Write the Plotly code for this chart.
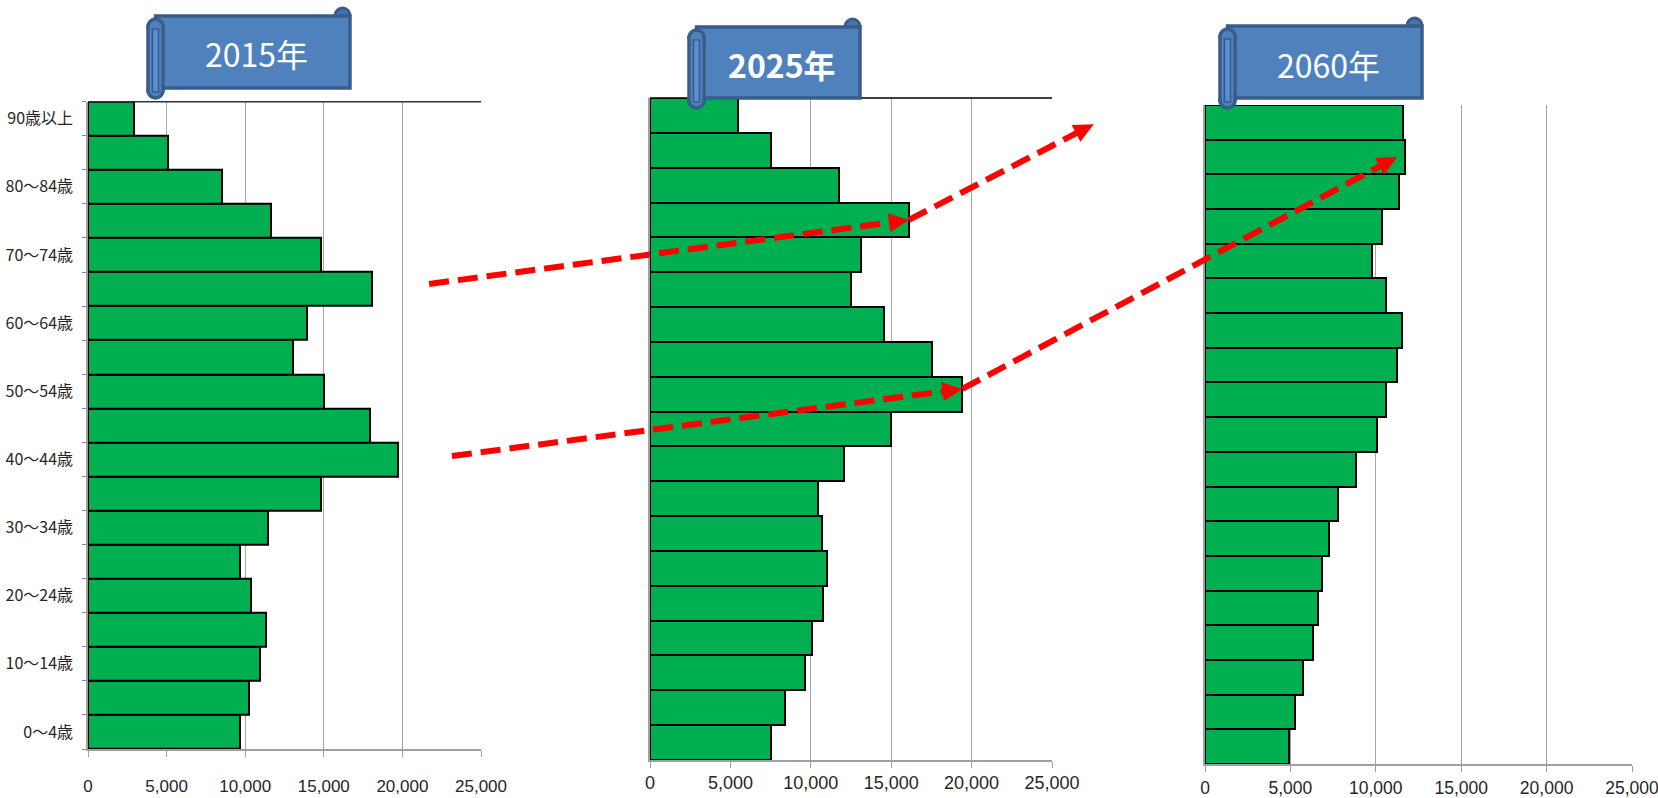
import plotly.graph_objects as go

W, H = 1658, 798

# ---- data (bottom to top: 0～4歳 ... 90歳以上) ----
age_labels = ["0～4歳", "5～9歳", "10～14歳", "15～19歳", "20～24歳", "25～29歳",
              "30～34歳", "35～39歳", "40～44歳", "45～49歳", "50～54歳", "55～59歳",
              "60～64歳", "65～69歳", "70～74歳", "75～79歳", "80～84歳", "85～89歳",
              "90歳以上"]
pop_2015 = [9650, 10220, 10910, 11330, 10350, 9650, 11440, 14800, 19690, 17940,
            15010, 13010, 13900, 18090, 14840, 11610, 8530, 5060, 2950]
pop_2025 = [7510, 8420, 9630, 10100, 10750, 11020, 10690, 10460, 12090, 14980,
            19420, 17550, 14560, 12530, 13110, 16100, 11740, 7510, 5500]
pop_2060 = [4940, 5290, 5760, 6340, 6640, 6850, 7260, 7810, 8820, 10070,
            10600, 11220, 11530, 10580, 9780, 10360, 11340, 11690, 11610]
years = ["2015年", "2025年", "2060年"]
x_ticks = [0, 5000, 10000, 15000, 20000, 25000]
x_ticktext = ["0", "5,000", "10,000", "15,000", "20,000", "25,000"]
x_max = 25000

series = [pop_2015, pop_2025, pop_2060]
ypos = list(range(len(age_labels)))

# ---- layout geometry (page pixels) ----
P = [dict(x0=88, x1=481, yT=101.7, yB=749),
     dict(x0=650, x1=1052, yT=98, yB=760),
     dict(x0=1205, x1=1632, yT=105, yB=764)]
NC = len(age_labels)


def px(p, v):
    d = P[p]
    return d["x0"] + v / x_max * (d["x1"] - d["x0"])


def py(p, c):
    d = P[p]
    return d["yB"] - (c + 0.5) / NC * (d["yB"] - d["yT"])


def X(x):
    return x / W


def Y(y):
    return 1 - y / H


fig = go.Figure()
for i, vals in enumerate(series):
    n = "" if i == 0 else str(i + 1)
    fig.add_trace(go.Bar(
        x=vals, y=ypos, orientation="h",
        xaxis="x" + n, yaxis="y" + n,
        marker=dict(color="#00B050", line=dict(color="#000000", width=2)),
        hoverinfo="x",
    ))

layout = dict(width=W, height=H, margin=dict(l=0, r=0, t=0, b=0, autoexpand=False),
              paper_bgcolor="white", plot_bgcolor="white",
              showlegend=False, bargap=0)

for i in range(3):
    n = "" if i == 0 else str(i + 1)
    d = P[i]
    if i == 0:
        tfont = dict(family="Liberation Sans Narrow, Liberation Sans", size=17, color="#262626")
        stand = 15
    elif i == 1:
        tfont = dict(family="Liberation Sans", size=18, color="#262626")
        stand = 0
    else:
        tfont = dict(family="Liberation Sans", size=17.5, color="#262626")
        stand = 1
    layout["xaxis" + n] = dict(
        domain=[X(d["x0"]), X(d["x1"])], range=[0, x_max],
        anchor="y" + n, tickmode="array", tickvals=x_ticks, ticktext=x_ticktext,
        showgrid=True, gridcolor="#A6A6A6", gridwidth=1.2,
        showline=True, linecolor="#A0A0A0", linewidth=1.5,
        ticks="outside", ticklen=6, tickcolor="#A0A0A0",
        zeroline=False, tickfont=tfont, ticklabelstandoff=stand,
        ticklabeloverflow="allow",
        automargin=False, fixedrange=True,
    )
    ya = dict(
        domain=[Y(d["yB"]), Y(d["yT"])], range=[-0.5, NC - 0.5],
        anchor="x" + n, showgrid=False, zeroline=False, automargin=False,
        showline=True, linecolor="#A0A0A0", linewidth=1.5, fixedrange=True,
    )
    if i == 0:
        ya.update(tickmode="array", tickvals=ypos[::2], ticktext=age_labels[::2],
                  ticks="", ticklabelstandoff=10,
                  tickfont=dict(family="Noto Sans CJK JP", size=16, color="#262626"),
                  minor=dict(tickmode="array",
                             tickvals=[k - 0.5 for k in range(NC + 1)],
                             ticks="outside", ticklen=4, tickcolor="#888888"))
    else:
        ya.update(showticklabels=False, ticks="")
    layout["yaxis" + n] = ya

shapes = []
annotations = []

# top border lines of first two panels
for i in (0, 1):
    d = P[i]
    shapes.append(dict(type="line", xref="paper", yref="paper",
                       x0=X(d["x0"]), x1=X(d["x1"]), y0=Y(d["yT"]), y1=Y(d["yT"]),
                       line=dict(color="#333333" if i == 0 else "#000000", width=1.5)))

# ---- scroll banners ----
FILL = "#4F81BD"
EDGE = "#385D8A"
banners = [dict(x0=148, x1=350, yT=19, yB=88, rb=98, bold=False),
           dict(x0=689, x1=860, yT=30, yB=98, rb=108, bold=True),
           dict(x0=1220, x1=1422, yT=29, yB=98, rb=108, bold=False)]


def path(pts):
    return "M " + " L ".join(f"{X(a):.5f},{Y(b):.5f}" for a, b in pts) + " Z"


for b, label in zip(banners, years):
    r = 7.5
    # right roll circle
    shapes.append(dict(type="circle", xref="paper", yref="paper",
                       x0=X(b["x1"] - 2 * r), x1=X(b["x1"]),
                       y0=Y(b["yT"] - 11 + 2 * r), y1=Y(b["yT"] - 11),
                       fillcolor="#4473AE", line=dict(color=EDGE, width=3)))
    # body
    shapes.append(dict(type="rect", xref="paper", yref="paper",
                       x0=X(b["x0"] + r), x1=X(b["x1"]),
                       y0=Y(b["yB"]), y1=Y(b["yT"] - 3),
                       fillcolor=FILL, line=dict(color=EDGE, width=3.5)))
    # left roll
    shapes.append(dict(type="rect", xref="paper", yref="paper",
                       x0=X(b["x0"]), x1=X(b["x0"] + 2 * r),
                       y0=Y(b["rb"] - r), y1=Y(b["yT"] + r),
                       fillcolor=FILL, line=dict(color=EDGE, width=3.5)))
    for cy in (b["yT"] + r, b["rb"] - r):
        shapes.append(dict(type="circle", xref="paper", yref="paper",
                           x0=X(b["x0"]), x1=X(b["x0"] + 2 * r),
                           y0=Y(cy + r), y1=Y(cy - r),
                           fillcolor=FILL, line=dict(color=EDGE, width=3.5)))
    shapes.append(dict(type="rect", xref="paper", yref="paper",
                       x0=X(b["x0"] + 1.6), x1=X(b["x0"] + 2 * r - 1.6),
                       y0=Y(b["rb"] - r), y1=Y(b["yT"] + r),
                       fillcolor=FILL, line=dict(width=0)))
    shapes.append(dict(type="rect", xref="paper", yref="paper",
                       x0=X(b["x0"] + 4.5), x1=X(b["x0"] + 2 * r - 4.5),
                       y0=Y(b["rb"] - 6), y1=Y(b["yT"] + 10),
                       fillcolor="#5B8FCF", line=dict(color=EDGE, width=1.5)))
    cx = (b["x0"] + 2 * r + b["x1"]) / 2
    cy = (b["yT"] + b["yB"]) / 2
    txt = f"<b>{label}</b>" if b["bold"] else label
    annotations.append(dict(xref="paper", yref="paper", x=X(cx), y=Y(cy),
                            text=txt, showarrow=False, xanchor="center", yanchor="middle",
                            font=dict(family="Noto Sans CJK JP", size=32, color="white")))

# ---- dashed red arrows (endpoints tied to the data) ----
arrows = [
    ((0, 21700, 13.15), (1, pop_2025[15], 15.0)),
    ((1, pop_2025[15], 15.0), (1, 27600, 17.75)),
    ((0, 23150, 8.1), (1, pop_2025[10], 10.15)),
    ((1, pop_2025[10], 10.15), (2, 11250, 17.0)),
]
HL, HW = 20, 19
for (p0, v0, c0), (p1, v1, c1) in arrows:
    xa, ya_ = px(p0, v0), py(p0, c0)
    xb, yb = px(p1, v1), py(p1, c1)
    dx, dy = xb - xa, yb - ya_
    L = (dx * dx + dy * dy) ** 0.5
    ux, uy = dx / L, dy / L
    bx, by = xb - ux * HL, yb - uy * HL
    shapes.append(dict(type="line", xref="paper", yref="paper",
                       x0=X(xa), y0=Y(ya_), x1=X(bx + ux * 2), y1=Y(by + uy * 2),
                       line=dict(color="#FF0000", width=6, dash="20px,9px")))
    nx, ny = -uy, ux
    shapes.append(dict(type="path", xref="paper", yref="paper",
                       path=path([(xb, yb), (bx + nx * HW / 2, by + ny * HW / 2),
                                  (bx - nx * HW / 2, by - ny * HW / 2)]),
                       fillcolor="#FF0000", line=dict(width=0)))

layout["shapes"] = shapes
layout["annotations"] = annotations
fig.update_layout(**layout)
# the page's default 8px body margin would push the 1658x798 figure out of the window
fig.write_html("out.html", config={"displayModeBar": False},
               post_script="document.body.style.margin='0px';document.body.style.overflow='hidden';")
